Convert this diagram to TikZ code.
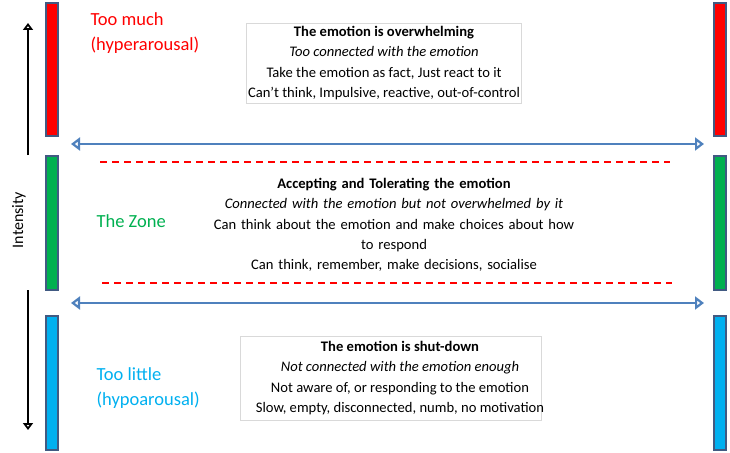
\documentclass[tikz,border=0pt]{standalone}
\usepackage{fontspec}
\setmainfont{Carlito}
\usetikzlibrary{arrows.meta}
\begin{document}
\begin{tikzpicture}[x=1pt,y=-1pt,
 bar/.style={draw={rgb,255:red,65;green,90;blue,130},line width=1.5pt},
 lbl/.style={font=\fontsize{18.5}{25}\selectfont,anchor=west,align=left},
 txt/.style={font=\fontsize{14.6}{20.3}\selectfont,align=center},
 barrow/.style={draw={rgb,255:red,79;green,129;blue,189},line width=2.2pt,{Stealth[open,length=9pt,width=13pt,inset=0pt]}-{Stealth[open,length=9pt,width=13pt,inset=0pt]}},
 rdash/.style={color=red,line width=1.4pt,dash pattern=on 7pt off 5pt},
 tbox/.style={draw=black!15,fill=white,line width=0.6pt}]
\useasboundingbox (0,0) rectangle (730,452);
\definecolor{zred}{RGB}{255,0,0}\definecolor{zgreen}{RGB}{0,176,80}\definecolor{zblue}{RGB}{0,176,240}
\foreach \x in {46,714}{
 \fill[zred,bar] (\x,3) rectangle +(12,133);
 \fill[zgreen,bar] (\x,156) rectangle +(12,134);
 \fill[zblue,bar] (\x,316) rectangle +(12,134);}
\coordinate (a1) at (28,155); \coordinate (a2) at (28,23);
\coordinate (b1) at (28,290); \coordinate (b2) at (28,430);
\draw[line width=2pt,-{Stealth[open,length=7pt,width=10pt,inset=0pt]}] (a1) -- (a2);
\draw[line width=2pt,-{Stealth[open,length=7pt,width=10pt,inset=0pt]}] (b1) -- (b2);
\node[rotate=90,font=\fontsize{16}{18}\selectfont] (int) at (19,220) {Intensity};
\coordinate (h1) at (71,144); \coordinate (h2) at (704,144);
\coordinate (g1) at (71,303); \coordinate (g2) at (704,303);
\draw[barrow] (h1) -- (h2);
\draw[barrow] (g1) -- (g2);
\coordinate (d1) at (100,162); \coordinate (d2) at (670,162);
\coordinate (e1) at (102,283); \coordinate (e2) at (672,283);
\draw[rdash] (d1) -- (d2);
\draw[rdash] (e1) -- (e2);
\node[lbl,text=zred] (tm) at (87,33) {Too much\\(hyperarousal)};
\node[lbl,text=zgreen] (tz) at (93,221) {The Zone};
\node[lbl,text=zblue] (tl) at (93,388) {Too little\\(hypoarousal)};
\draw[tbox] (246,23) rectangle (521,103);
\node[txt] (top) at (384,63) {\textbf{The emotion is overwhelming}\\\textit{Too connected with the emotion}\\Take the emotion as fact, Just react to it\\Can’t think, Impulsive, reactive, out-of-control};
\node[txt,text width=400pt] (mid) at (394,225) {\textbf{Accepting and Tolerating the emotion}\\\textit{Connected with the emotion but not overwhelmed by it}\\Can think about the emotion and make choices about how\\to respond\\Can think, remember, make decisions, socialise};
\draw[tbox] (240,336) rectangle (541,420);
\node[txt] (bot) at (400,378) {\textbf{The emotion is shut-down}\\\textit{Not connected with the emotion enough}\\Not aware of, or responding to the emotion\\Slow, empty, disconnected, numb, no motivation};
\end{tikzpicture}
\end{document}
